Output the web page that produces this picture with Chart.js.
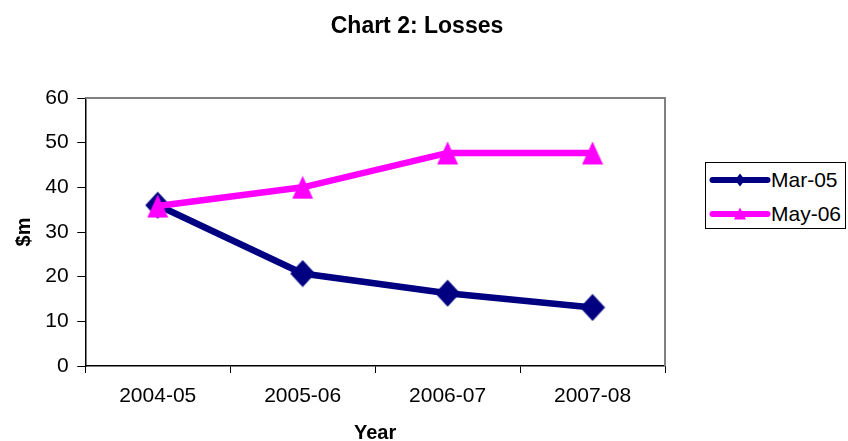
<!DOCTYPE html>
<html>
<head>
<meta charset="utf-8">
<title>Chart 2: Losses</title>
<script src="https://cdn.jsdelivr.net/npm/chart.js@4/dist/chart.umd.min.js"></script>
<style>
  html, body { margin: 0; padding: 0; background: #fff; }
  #wrap { position: relative; width: 848px; height: 441px; font-family: "Liberation Sans", Arial, sans-serif; }
  #chart { position: absolute; left: 0; top: 0; }
  #legend {
    position: absolute; left: 705px; top: 162px; width: 139px; height: 65px;
    border: 1px solid #000; background: #fff;
  }
  .item { position: absolute; left: 0; height: 26px; width: 139px; }
  .item svg { position: absolute; left: 3px; top: 0; }
  .item span { position: absolute; left: 65px; top: 0; line-height: 26px; font-size: 21px; color: #000; white-space: nowrap; }
</style>
</head>
<body>
<div id="wrap">
  <canvas id="chart" width="848" height="441"></canvas>
  <div id="legend"></div>
</div>
<script>
// Financial years on the horizontal axis
const years = ['2004-05', '2005-06', '2006-07', '2007-08'];

// Loss estimates ($m) published at two points in time
const seriesNames = ['Mar-05', 'May-06'];
const mar05 = [36.0, 20.7, 16.3, 13.1];
const may06 = [35.8, 40.0, 47.7, 47.7];

const seriesColors = ['#000080', '#FF00FF'];
const FONT = '"Liberation Sans", Arial, sans-serif';

// Marker sprites (drawn centred on each data point)
function markerCanvas(w, h, color, pts) {
  const c = document.createElement('canvas');
  c.width = w; c.height = h;
  const g = c.getContext('2d');
  g.fillStyle = color;
  g.beginPath();
  pts.forEach(([x, y], i) => (i ? g.lineTo(x, y) : g.moveTo(x, y)));
  g.closePath();
  g.fill();
  return c;
}
const diamond = markerCanvas(26, 28, seriesColors[0], [[13, 0.5], [25.5, 14], [13, 27.5], [0.5, 14]]);
const triangle = markerCanvas(22, 24, seriesColors[1], [[11, 0.5], [21.5, 23.5], [0.5, 23.5]]);

// Grey frame on the top and right edges of the plot area
const plotFrame = {
  id: 'plotFrame',
  beforeDatasetsDraw(chart) {
    const { ctx, chartArea: a } = chart;
    ctx.save();
    ctx.strokeStyle = '#808080';
    ctx.lineWidth = 2;
    ctx.beginPath();
    ctx.moveTo(a.left, a.top);
    ctx.lineTo(a.right, a.top);
    ctx.lineTo(a.right, a.bottom);
    ctx.stroke();
    ctx.restore();
  }
};

new Chart(document.getElementById('chart'), {
  type: 'line',
  data: {
    labels: years,
    datasets: [
      {
        label: seriesNames[0],
        data: mar05,
        order: 1,
        borderColor: seriesColors[0],
        backgroundColor: seriesColors[0],
        borderWidth: 6.5,
        pointStyle: diamond,
        pointRadius: 13,
        tension: 0,
        fill: false
      },
      {
        label: seriesNames[1],
        data: may06,
        order: 0,
        borderColor: seriesColors[1],
        backgroundColor: seriesColors[1],
        borderWidth: 6.5,
        pointStyle: triangle,
        pointRadius: 12,
        tension: 0,
        fill: false
      }
    ]
  },
  options: {
    responsive: false,
    animation: false,
    events: [],
    layout: { padding: { right: 14 } },
    plugins: {
      legend: { display: false },
      tooltip: { enabled: false },
      title: {
        display: true,
        text: 'Chart 2: Losses',
        color: '#000',
        font: { family: FONT, size: 23, weight: 'bold' },
        padding: { top: 13.2, bottom: 57.2 }
      }
    },
    scales: {
      x: {
        offset: true,
        grid: { offset: true, drawOnChartArea: false, tickLength: 7, color: '#000', lineWidth: 1 },
        border: { color: '#000', width: 1.5 },
        ticks: { color: '#000', font: { family: FONT, size: 21 }, padding: 11, maxRotation: 0 },
        title: {
          display: true,
          text: 'Year',
          color: '#000',
          font: { family: FONT, size: 20, weight: 'bold', lineHeight: 0.8 },
          padding: { top: 4.8, bottom: 0 }
        }
      },
      y: {
        min: 0,
        max: 60,
        grid: { drawOnChartArea: false, tickLength: 8, color: '#000', lineWidth: 1 },
        border: { color: '#000', width: 1.5 },
        ticks: { stepSize: 10, color: '#000', font: { family: FONT, size: 21 }, padding: 8.7 },
        title: {
          display: true,
          text: '$m',
          color: '#000',
          font: { family: FONT, size: 20, weight: 'bold' },
          padding: { top: 12.5, bottom: 0 }
        }
      },
      // Empty right-hand scale reserving room for the legend
      side: {
        type: 'linear',
        position: 'right',
        display: true,
        grid: { display: false },
        border: { display: false },
        ticks: { display: false },
        afterFit(scale) { scale.width = 169; }
      }
    }
  },
  plugins: [plotFrame]
});

// Legend: a line sample with its marker, followed by the series name
const legend = document.getElementById('legend');
const markers = [
  '<polygon points="31,6.5 36,13 31,19.5 26,13" />',
  '<polygon points="31,6.5 37,18.5 25,18.5" />'
];
const rowTops = [4, 38];
seriesNames.forEach((name, i) => {
  const row = document.createElement('div');
  row.className = 'item';
  row.style.top = rowTops[i] + 'px';
  row.innerHTML =
    '<svg width="62" height="26" viewBox="0 0 62 26">' +
    '<line x1="3.5" y1="13" x2="58.5" y2="13" stroke="' + seriesColors[i] + '" stroke-width="6" stroke-linecap="round"/>' +
    '<g fill="' + seriesColors[i] + '">' + markers[i] + '</g></svg>' +
    '<span>' + name + '</span>';
  legend.appendChild(row);
});
</script>
</body>
</html>
